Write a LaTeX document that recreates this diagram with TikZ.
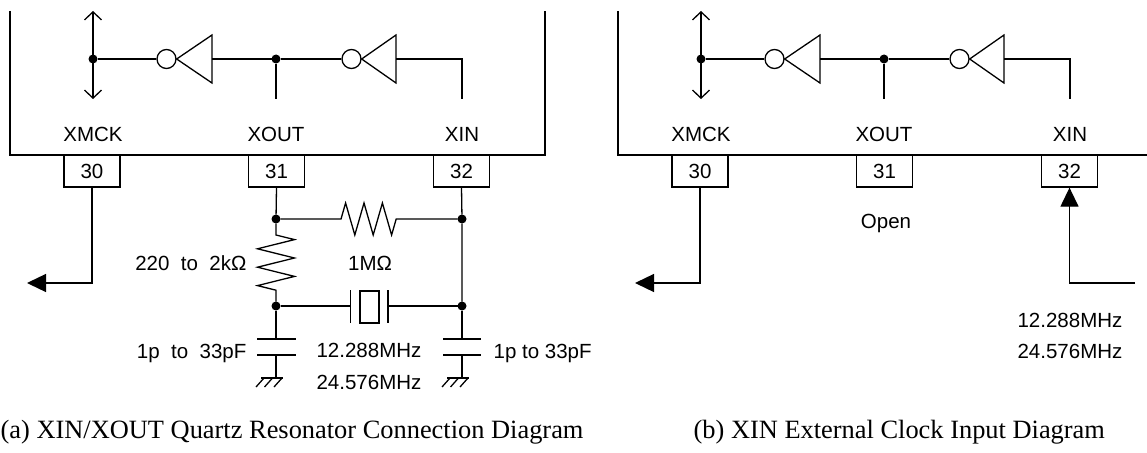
\documentclass[tikz,border=0pt]{standalone}
\usepackage{fontspec}
\setmainfont{Liberation Sans}
\newfontfamily\capfont{Liberation Serif}
\usepackage{tikz}
\usetikzlibrary{arrows.meta}
\usetikzlibrary{calc}
\tikzset{
every picture/.style={line width=1.3pt, x=1pt, y=-1pt},
%%%%%%%%%%  Node styles
dotnode/.style={fill=black,circle,minimum size=9pt, inner sep=0pt, outer
sep=0},
bubble/.style={draw,circle,minimum size=19pt, inner sep=0pt},
pinbox/.style={draw, minimum width=56pt, minimum height=32pt, inner sep=0pt},
crystal/.style={draw, minimum width=19pt, minimum height=32pt, inner sep=0pt},
sig/.style={font=\fontsize{20.5}{24}\selectfont, inner sep=0pt,
            text height=14.7pt, text depth=0pt},
caption/.style={font=\capfont\fontsize{26.4}{30}\selectfont, inner sep=0pt,
            text height=17.5pt, text depth=0pt},
%%%% arrow styles
bidir/.style={{Straight Barb[length=8pt,width=17pt]}-{Straight Barb[length=8pt,width=17pt]}},
outarrow/.style={-{Triangle[length=19pt,width=18pt]}},
%%%% ground symbol
ground/.pic={
	\draw (-15,0) -- (7,0);
	\foreach \hx in {-12,-3.5,6} \draw (\hx,0) -- ++(-8,9);
}
}

\begin{document}
\begin{tikzpicture}
\useasboundingbox (0,0) rectangle (1147,452);
%%%%%%%%%%%%%%%%%%%%%%%%%%%%%%%%%%%%%%%%%%%%%%
%% (a) quartz resonator
\begin{scope}[shift={(0,0)}]
%% chip outline
\draw (10,11) -- (10,155) -- (545,155) -- (545,11);
%% XMCK buffer
\node[dotnode] (ckdot) at (93,59) {};
\coordinate (ckup) at (93,11);
\coordinate (ckdn) at (93,99);
\draw[bidir] (ckup) -- (ckdn);
%% inverters
\node[bubble] (bub1) at (166.5,59) {};
\draw (bub1.east) -- (212,35) -- (212,83) -- cycle;
\coordinate (in1) at (212,59);
\node[bubble] (bub2) at (351.5,59) {};
\draw (bub2.east) -- (396,35) -- (396,83) -- cycle;
\coordinate (in2) at (396,59);
\node[dotnode] (xodot) at (276,59) {};
\coordinate (xoend) at (276,99);
\coordinate (xiend) at (462,99);
\draw (ckdot) -- (bub1.west);
\draw (in1) -- (xodot) -- (bub2.west);
\draw (xodot) -- (xoend);
\draw (in2) -| (xiend);
%% pin names and pins
\node[sig] (lxmck) at (93,134) {XMCK};
\node[sig] (lxout) at (276,134) {XOUT};
\node[sig] (lxin) at (462,134) {XIN};
\node[pinbox,sig] (p30) at (92,171) {30};
\node[pinbox,sig] (p31) at (276.5,171) {31};
\node[pinbox,sig] (p32) at (461.5,171) {32};
%% clock out
\coordinate (ckout) at (27,283);
\draw[outarrow] (p30.south) |- (ckout);
%% junctions
\node[dotnode] (jA) at (276,219) {};
\node[dotnode] (jB) at (462,219) {};
\node[dotnode] (jC) at (276,306) {};
\node[dotnode] (jD) at (462,306) {};
\draw (p31.south) -- (jA);
\draw (p32.south) -- (jB) -- (jD);
%% feedback resistor
\draw (jA) -- (341,219)
	-- ++(4.6,-16) -- ++(9.2,32) -- ++(9.2,-32) -- ++(9.2,32)
	-- ++(9.2,-32) -- ++(9.2,32) -- ++(4.6,-16) -- (jB);
%% damping resistor
\draw (jA) -- (276,235)
	-- ++(18.5,4.6) -- ++(-37,9.2) -- ++(37,9.2) -- ++(-37,9.2)
	-- ++(37,9.2) -- ++(-37,9.2) -- ++(18.5,4.6) -- (jC);
%% crystal
\node[crystal] (xtal) at (369.5,307) {};
\coordinate (xl) at (350.7,306);
\coordinate (xr) at (388,306);
\draw (350.7,290) -- (350.7,323);
\draw (388,290) -- (388,323);
\draw (jC) -- (xl);
\draw (xr) -- (jD);
%% load capacitors
\coordinate (cLt) at (276,339);
\coordinate (cLb) at (276,355);
\coordinate (gL) at (276,378);
\draw (jC) -- (cLt);
\draw (257,339) -- (296,339);
\draw (257,355) -- (296,355);
\draw (cLb) -- (gL);
\pic at (gL) {ground};
\coordinate (cRt) at (462,339);
\coordinate (cRb) at (462,355);
\coordinate (gR) at (462,378);
\draw (jD) -- (cRt);
\draw (443,339) -- (481,339);
\draw (443,355) -- (481,355);
\draw (cRb) -- (gR);
\pic at (gR) {ground};
%% values
\node[sig,anchor=east] (lrd) at (247,263) {220\ \ to\ \ 2kΩ};
\node[sig] (lrf) at (370,263) {1MΩ};
\node[sig,anchor=east] (lcl) at (247,351) {1p\ \ to\ \ 33pF};
\node[sig] (lf1) at (369,350) {12.288MHz};
\node[sig] (lf2) at (369,382) {24.576MHz};
\node[sig,anchor=west] (lcr) at (493,351) {1p to 33pF};
\end{scope}
%%%%%%%%%%%%%%%%%%%%%%%%%%%%%%%%%%%%%%%%%%%%%%
%% (b) external clock
\begin{scope}[shift={(608,0)}]
%% chip outline
\draw (10,11) -- (10,155) -- (539,155);
%% XMCK buffer
\node[dotnode] (ckdot) at (93,59) {};
\coordinate (ckup) at (93,11);
\coordinate (ckdn) at (93,99);
\draw[bidir] (ckup) -- (ckdn);
%% inverters
\node[bubble] (bub1) at (166.5,59) {};
\draw (bub1.east) -- (212,35) -- (212,83) -- cycle;
\coordinate (in1) at (212,59);
\node[bubble] (bub2) at (351.5,59) {};
\draw (bub2.east) -- (396,35) -- (396,83) -- cycle;
\coordinate (in2) at (396,59);
\node[dotnode] (xodot) at (276,59) {};
\coordinate (xoend) at (276,99);
\coordinate (xiend) at (462,99);
\draw (ckdot) -- (bub1.west);
\draw (in1) -- (xodot) -- (bub2.west);
\draw (xodot) -- (xoend);
\draw (in2) -| (xiend);
%% pin names and pins
\node[sig] (lxmck) at (93,134) {XMCK};
\node[sig] (lxout) at (276,134) {XOUT};
\node[sig] (lxin) at (462,134) {XIN};
\node[pinbox,sig] (p30) at (92,171) {30};
\node[pinbox,sig] (p31) at (276.5,171) {31};
\node[pinbox,sig] (p32) at (461.5,171) {32};
%% clock out
\coordinate (ckout) at (27,283);
\draw[outarrow] (p30.south) |- (ckout);
%% XOUT open, clock into XIN
\node[sig] (lopen) at (278,221) {Open};
\coordinate (clkin) at (527,283);
\draw[outarrow] (clkin) -| (p32.south);
\node[sig] (lf1) at (462,320) {12.288MHz};
\node[sig] (lf2) at (462,351) {24.576MHz};
\end{scope}
%%%%%%%%%%%%%%%%%%%%%%%%%%%%%%%%%%%%%%%%%%%%%%
%% captions
\node[caption,anchor=west] (capa) at (0,430) {(a) XIN/XOUT Quartz Resonator Connection Diagram};
\node[caption,anchor=west] (capb) at (693,430) {(b) XIN External Clock Input Diagram};
\end{tikzpicture}
\end{document}
